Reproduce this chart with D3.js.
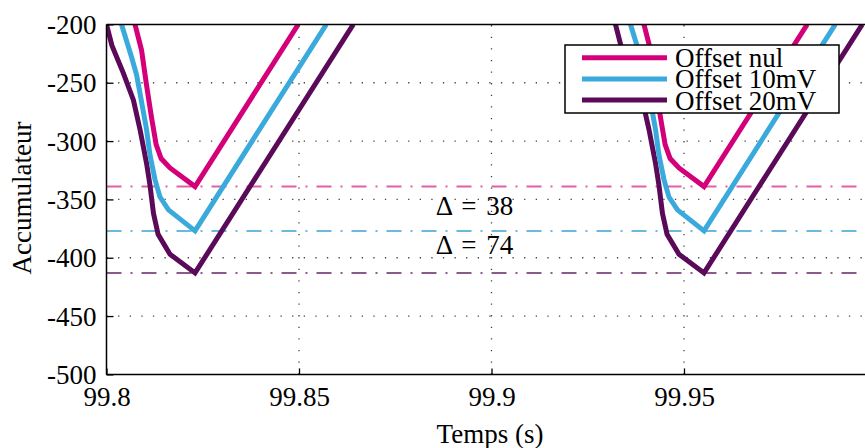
<!DOCTYPE html>
<html>
<head>
<meta charset="utf-8">
<script src="https://cdn.jsdelivr.net/npm/d3@7"></script>
<style>
  html, body { margin: 0; padding: 0; background: #fff; }
  svg { display: block; }
  svg text { font-family: "Liberation Serif", "Times New Roman", Times, serif !important; fill: #000; }
</style>
</head>
<body>
<svg id="chart" width="865" height="448"></svg>
<script>
// ---- data ----
const seriesNames = ["Offset nul", "Offset 10mV", "Offset 20mV"];
const seriesColors = ["#d4007a", "#3aaadc", "#5a0a58"];
const refColors = ["#e05fa5", "#6bb9dd", "#8a5a8a"];

// time (s) and accumulator values; null separates the two dips
const tNul = [99.8074, 99.8091, 99.8104, 99.8117, 99.8129, 99.8142, 99.8165, 99.8230, 99.8498,
              null,
              99.9396, 99.9413, 99.9426, 99.9439, 99.9451, 99.9464, 99.9487, 99.9552, 99.9820];
const vNul = [-200, -222, -252, -280, -303, -315, -323, -339, -200,
              null,
              -200, -222, -252, -280, -303, -315, -323, -339, -200];

const t10 = [99.8039, 99.8065, 99.8078, 99.8087, 99.8104, 99.8113, 99.8126, 99.8139, 99.8161, 99.8230, 99.8571,
             null,
             99.9361, 99.9387, 99.9400, 99.9409, 99.9426, 99.9435, 99.9448, 99.9461, 99.9483, 99.9552, 99.9893];
const v10 = [-200, -228, -243, -259, -290, -312, -333, -348, -359, -377, -200,
             null,
             -200, -228, -243, -259, -290, -312, -333, -348, -359, -377, -200];

const t20 = [99.8000, 99.8014, 99.8044, 99.8070, 99.8087, 99.8104, 99.8113, 99.8122, 99.8134, 99.8165, 99.8230, 99.8641,
             null,
             99.9322, 99.9336, 99.9366, 99.9392, 99.9409, 99.9426, 99.9435, 99.9444, 99.9456, 99.9487, 99.9552, 99.9963];
const v20 = [-200, -218, -242, -265, -290, -319, -338, -362, -380, -397, -413, -200,
             null,
             -200, -218, -242, -265, -290, -319, -338, -362, -380, -397, -413, -200];

const minima = [-339, -377, -413];
const deltaLabels = ["\u0394 = 38", "\u0394 = 74"];
const deltaValues = [-363, -397];          // vertical positions (values) of the annotations
const deltaTime = 99.8855;

const xTicks = [99.8, 99.85, 99.9, 99.95];
const xTickLabels = ["99.8", "99.85", "99.9", "99.95"];
const yTicks = [-500, -450, -400, -350, -300, -250, -200];
const yTickLabels = ["-500", "-450", "-400", "-350", "-300", "-250", "-200"];
const xTitle = "Temps (s)";
const yTitle = "Accumulateur";

// ---- layout ----
const svg = d3.select("#chart");
const L = 106.5, R = 876.5, T = 24.4, B = 374.4;
const x = d3.scaleLinear().domain([99.8, 100]).range([L, R]);
const y = d3.scaleLinear().domain([-500, -200]).range([B, T]);
const FS = 27;
const FF = '"Liberation Serif", "Times New Roman", serif';

svg.append("defs").append("clipPath").attr("id", "clip")
  .append("rect").attr("x", L).attr("y", T).attr("width", R - L).attr("height", B - T);

// grid
const grid = svg.append("g");
grid.selectAll("line.gy").data(yTicks.filter(v => v > -500 && v < -200)).enter().append("line")
  .attr("x1", L).attr("x2", R).attr("y1", d => y(d)).attr("y2", d => y(d))
  .attr("stroke", "#444").attr("stroke-width", 1.3).attr("stroke-dasharray", "1.3,10.3");
grid.selectAll("line.gx").data(xTicks.filter(v => v > 99.8)).enter().append("line")
  .attr("y1", B).attr("y2", T).attr("x1", d => x(d)).attr("x2", d => x(d))
  .attr("stroke", "#444").attr("stroke-width", 1.3).attr("stroke-dasharray", "1.3,10.3");

// reference dash-dot lines
svg.append("g").selectAll("line").data(minima).enter().append("line")
  .attr("x1", L).attr("x2", R).attr("y1", d => y(d)).attr("y2", d => y(d))
  .attr("stroke", (d, i) => refColors[i]).attr("stroke-width", 2)
  .attr("stroke-dasharray", "15,9,2,9");

// series
const seriesData = [
  tNul.map((t, i) => ({t, v: vNul[i]})),
  t10.map((t, i) => ({t, v: v10[i]})),
  t20.map((t, i) => ({t, v: v20[i]}))
];
const line = d3.line().defined(d => d.t != null && d.v != null).x(d => x(d.t)).y(d => y(d.v));
const lines = svg.append("g").attr("clip-path", "url(#clip)");
[2, 1, 0].forEach(i => {
  lines.append("path").datum(seriesData[i]).attr("d", line)
    .attr("fill", "none").attr("stroke", seriesColors[i]).attr("stroke-width", 5)
    .attr("stroke-linejoin", "miter").attr("stroke-miterlimit", 4);
});

// axes frame
const frame = svg.append("g").attr("stroke", "#000").attr("stroke-width", 1.5);
frame.append("line").attr("x1", L).attr("x2", L).attr("y1", T).attr("y2", B);
frame.append("line").attr("x1", L).attr("x2", R).attr("y1", B).attr("y2", B);
frame.append("line").attr("x1", L).attr("x2", R).attr("y1", T).attr("y2", T);

// y axis
const yAxis = d3.axisLeft(y).tickValues(yTicks).tickSizeInner(-7).tickSizeOuter(0)
  .tickFormat((d, i) => yTickLabels[i]).tickPadding(10);
const gy = svg.append("g").attr("transform", `translate(${L},0)`).call(yAxis)
  .attr("font-family", FF).attr("font-size", FS);
gy.select(".domain").remove();
gy.selectAll(".tick line").attr("stroke", "#000").attr("stroke-width", 1.3);
gy.selectAll(".tick text").style("font-family", FF).style("font-size", FS + "px")
  .attr("dy", "0.34em").attr("fill", "#000");

// x axis
const xAxis = d3.axisBottom(x).tickValues(xTicks).tickSizeInner(-6).tickSizeOuter(0)
  .tickFormat((d, i) => xTickLabels[i]).tickPadding(12);
const gx = svg.append("g").attr("transform", `translate(0,${B})`).call(xAxis)
  .attr("font-family", FF).attr("font-size", FS);
gx.select(".domain").remove();
gx.selectAll(".tick line").attr("stroke", "#000").attr("stroke-width", 1.3);
gx.selectAll(".tick text").style("font-family", FF).style("font-size", FS + "px").attr("fill", "#000");

// titles
svg.append("text").attr("x", 490).attr("y", 443).attr("text-anchor", "middle")
  .style("font-size", FS + "px").text(xTitle);
svg.append("text").attr("transform", "translate(31,198) rotate(-90)").attr("text-anchor", "middle")
  .style("font-size", FS + "px").text(yTitle);

// delta annotations
svg.append("g").selectAll("text").data(deltaLabels).enter().append("text")
  .attr("x", x(deltaTime)).attr("y", (d, i) => y(deltaValues[i]))
  .attr("word-spacing", 3)
  .style("font-size", FS + "px").text(d => d);

// legend
const lg = svg.append("g").attr("transform", "translate(565,45)");
lg.append("rect").attr("width", 274).attr("height", 68).attr("fill", "#fff")
  .attr("stroke", "#000").attr("stroke-width", 1.5);
seriesNames.forEach((name, i) => {
  const yy = 12.7 + i * 21.2;
  lg.append("line").attr("x1", 17).attr("x2", 102).attr("y1", yy).attr("y2", yy)
    .attr("stroke", seriesColors[i]).attr("stroke-width", 5);
  lg.append("text").attr("x", 110).attr("y", yy + 9.5).style("font-size", FS + "px").text(name);
});
</script>
</body>
</html>
